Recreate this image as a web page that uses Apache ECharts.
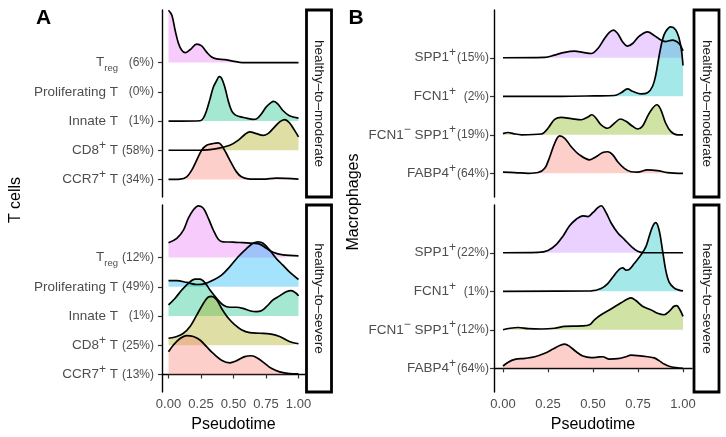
<!DOCTYPE html>
<html><head><meta charset="utf-8">
<script src="https://cdn.jsdelivr.net/npm/echarts@6/dist/echarts.min.js"></script>
<style>html,body{margin:0;padding:0;background:#fff}#c{width:726px;height:437px}</style>
</head><body><div id="c"></div>
<script>
// ---------------- data ----------------
const xTicks = [0, 0.25, 0.5, 0.75, 1];
const tcellNames = ['CCR7+ T', 'CD8+ T', 'Innate T', 'Proliferating T', 'T_reg']; // bottom -> top
const tcellPctModerate = ['(34%)', '(58%)', '(1%)', '(0%)', '(6%)'];
const tcellPctSevere = ['(13%)', '(25%)', '(1%)', '(49%)', '(12%)'];
const macroNames = ['FABP4+', 'FCN1− SPP1+', 'FCN1+', 'SPP1+']; // bottom -> top
const macroPctModerate = ['(64%)', '(19%)', '(2%)', '(15%)'];
const macroPctSevere = ['(64%)', '(12%)', '(1%)', '(22%)'];
const facetNames = ['healthy–to–moderate', 'healthy–to–severe'];

// densities [pseudotime, ridge height in row units]
const tModCCR7 = [[0,0],[0.089,0.01],[0.14,0.09],[0.179,0.32],[0.217,0.66],[0.255,1.0],[0.293,1.17],[0.344,1.23],[0.383,1.25],[0.408,1.17],[0.446,0.88],[0.485,0.55],[0.523,0.26],[0.561,0.09],[0.612,0.02],[0.727,0.01],[0.829,0.045],[1,0.01]];
const tModCD8 = [[0,0],[0.242,0],[0.37,0.057],[0.472,0.17],[0.536,0.34],[0.587,0.54],[0.625,0.63],[0.676,0.57],[0.727,0.51],[0.765,0.57],[0.804,0.74],[0.855,0.97],[0.893,1.05],[0.93,0.94],[0.97,0.68],[1,0.46]];
const tModInnate = [[0,0],[0.1,0],[0.242,0.01],[0.268,0.10],[0.293,0.36],[0.319,0.75],[0.344,1.15],[0.37,1.38],[0.39,1.52],[0.408,1.47],[0.434,1.15],[0.459,0.70],[0.485,0.36],[0.51,0.22],[0.548,0.15],[0.6,0.10],[0.65,0.06],[0.676,0.07],[0.714,0.24],[0.753,0.49],[0.791,0.64],[0.809,0.67],[0.842,0.58],[0.88,0.36],[0.93,0.18],[1,0.10]];
const tModProlif = [];
const tModTreg = [[0,1.79],[0.026,1.62],[0.051,1.105],[0.077,0.65],[0.102,0.42],[0.128,0.34],[0.166,0.44],[0.217,0.63],[0.255,0.57],[0.293,0.36],[0.332,0.19],[0.37,0.125],[0.434,0.10],[0.485,0.057],[0.548,0.01],[0.65,0],[0.8,0],[1,0]];

const tSevCCR7 = [[0,0.78],[0.038,1.01],[0.089,1.23],[0.14,1.33],[0.191,1.30],[0.242,1.18],[0.293,0.95],[0.344,0.72],[0.408,0.49],[0.472,0.40],[0.523,0.47],[0.587,0.61],[0.638,0.64],[0.689,0.55],[0.74,0.38],[0.791,0.21],[0.855,0.09],[0.93,0.03],[1,0.02]];
const tSevCD8 = [[0,0.24],[0.064,0.30],[0.115,0.41],[0.166,0.64],[0.217,1.03],[0.268,1.43],[0.306,1.65],[0.332,1.67],[0.37,1.56],[0.408,1.26],[0.459,0.93],[0.51,0.70],[0.561,0.53],[0.625,0.43],[0.702,0.41],[0.778,0.39],[0.855,0.30],[0.93,0.13],[1,0.05]];
const tSevInnate = [[0,0.38],[0.051,0.61],[0.102,0.89],[0.153,1.12],[0.204,1.26],[0.242,1.26],[0.281,1.14],[0.319,0.89],[0.37,0.61],[0.42,0.38],[0.472,0.30],[0.523,0.30],[0.574,0.26],[0.625,0.18],[0.676,0.15],[0.714,0.18],[0.753,0.32],[0.804,0.55],[0.855,0.69],[0.906,0.83],[0.944,0.87],[0.982,0.78],[1,0.69]];
const tSevProlif = [[0,0.21],[0.064,0.21],[0.14,0.15],[0.217,0.08],[0.281,0.11],[0.344,0.23],[0.408,0.40],[0.472,0.69],[0.536,1.03],[0.6,1.31],[0.65,1.49],[0.689,1.54],[0.727,1.49],[0.778,1.26],[0.829,0.97],[0.88,0.74],[0.93,0.51],[1,0.25]];
const tSevTreg = [[0,0.51],[0.064,0.66],[0.115,0.94],[0.153,1.35],[0.191,1.63],[0.23,1.77],[0.268,1.69],[0.306,1.35],[0.344,0.95],[0.383,0.63],[0.42,0.54],[0.497,0.53],[0.574,0.51],[0.65,0.49],[0.702,0.46],[0.753,0.32],[0.804,0.18],[0.88,0.09],[1,0.06]];

const mModFABP4 = [[0,0.03],[0.066,0.02],[0.14,0],[0.195,0.02],[0.232,0.13],[0.26,0.43],[0.287,0.78],[0.315,0.97],[0.343,0.91],[0.379,0.69],[0.425,0.48],[0.481,0.35],[0.517,0.43],[0.554,0.54],[0.582,0.56],[0.61,0.48],[0.637,0.30],[0.674,0.13],[0.711,0.04],[0.748,0.03],[0.803,0.09],[0.858,0.07],[0.913,0.02],[1,0]];
const mModDN = [[0,0.03],[0.029,0.06],[0.057,0.03],[0.103,0],[0.214,0.02],[0.25,0.17],[0.287,0.40],[0.324,0.45],[0.379,0.42],[0.435,0.39],[0.471,0.46],[0.494,0.52],[0.517,0.43],[0.545,0.26],[0.582,0.17],[0.619,0.30],[0.652,0.41],[0.683,0.35],[0.72,0.22],[0.748,0.15],[0.775,0.22],[0.803,0.48],[0.831,0.69],[0.855,0.78],[0.877,0.65],[0.904,0.30],[0.932,0.09],[0.969,0],[1,0]];
const mModFCN1 = [[0,0],[0.324,0],[0.508,0.01],[0.619,0.02],[0.656,0.09],[0.692,0.19],[0.72,0.13],[0.766,0.06],[0.803,0.09],[0.831,0.26],[0.849,0.56],[0.867,1.04],[0.886,1.47],[0.904,1.68],[0.932,1.80],[0.959,1.73],[0.978,1.51],[0.991,1.21],[1,0.80]];
const mModSPP1 = [[0,0],[0.232,0.01],[0.287,0.07],[0.343,0.14],[0.398,0.17],[0.444,0.14],[0.49,0.11],[0.527,0.24],[0.564,0.50],[0.591,0.66],[0.613,0.72],[0.637,0.63],[0.665,0.41],[0.692,0.30],[0.72,0.37],[0.757,0.56],[0.803,0.67],[0.84,0.58],[0.877,0.46],[0.904,0.42],[0.941,0.46],[0.978,0.37],[1,0.18]];

const mSevFABP4 = [[0,0.06],[0.029,0.16],[0.066,0.23],[0.122,0.26],[0.177,0.30],[0.232,0.39],[0.278,0.50],[0.315,0.59],[0.343,0.63],[0.37,0.57],[0.407,0.43],[0.444,0.32],[0.49,0.28],[0.527,0.29],[0.554,0.30],[0.591,0.24],[0.637,0.25],[0.683,0.30],[0.711,0.34],[0.748,0.33],[0.803,0.30],[0.84,0.27],[0.867,0.20],[0.895,0.11],[0.932,0.04],[1,0]];
const mSevDN = [[0,0],[0.039,0.04],[0.085,0.06],[0.14,0.03],[0.214,0.02],[0.287,0.04],[0.343,0.09],[0.435,0.10],[0.481,0.13],[0.508,0.26],[0.545,0.39],[0.6,0.54],[0.656,0.70],[0.692,0.80],[0.711,0.83],[0.738,0.76],[0.775,0.61],[0.821,0.52],[0.858,0.43],[0.895,0.39],[0.923,0.48],[0.95,0.61],[0.965,0.63],[0.983,0.52],[1,0.35]];
const mSevFCN1 = [[0,0],[0.49,0.01],[0.545,0.07],[0.582,0.20],[0.619,0.42],[0.646,0.57],[0.665,0.61],[0.683,0.55],[0.702,0.57],[0.729,0.72],[0.766,0.94],[0.794,1.16],[0.812,1.42],[0.831,1.68],[0.849,1.78],[0.867,1.59],[0.886,1.07],[0.904,0.55],[0.923,0.24],[0.95,0.09],[0.978,0.03],[1,0.01]];
const mSevSPP1 = [[0,0],[0.195,0.01],[0.25,0.06],[0.297,0.22],[0.333,0.43],[0.37,0.70],[0.407,0.87],[0.444,0.96],[0.471,0.94],[0.499,1.04],[0.527,1.17],[0.545,1.22],[0.573,1.04],[0.6,0.78],[0.637,0.52],[0.674,0.35],[0.711,0.17],[0.748,0.04],[0.785,0],[1,0]];

// ---------------- styling / build ----------------
const FONT = '"Liberation Sans", Arial, Helvetica, sans-serif';
const tColors = ['#F8766D', '#A3A500', '#00BF7D', '#00B0F6', '#E76BF3'];
const mColors = ['#F8766D', '#7CAE00', '#00BFC4', '#C77CFF'];
const LABEL = '#4d4d4d';

const facets = [
  { grid: { left: 162, top: 10, width: 143, height: 187 }, names: tcellNames, pct: tcellPctModerate,
    ridges: [tModCCR7, tModCD8, tModInnate, tModProlif, tModTreg], colors: tColors, ymin: -0.6, ymax: 5.8, bottom: false, pm: 8, nm: 44, pp: 3 },
  { grid: { left: 162, top: 205, width: 143, height: 187 }, names: tcellNames, pct: tcellPctSevere,
    ridges: [tSevCCR7, tSevCD8, tSevInnate, tSevProlif, tSevTreg], colors: tColors, ymin: -0.6, ymax: 5.8, bottom: true, pm: 8, nm: 44, pp: 3 },
  { grid: { left: 494, top: 10, width: 198, height: 187 }, names: macroNames, pct: macroPctModerate,
    ridges: [mModFABP4, mModDN, mModFCN1, mModSPP1], colors: mColors, ymin: -0.615, ymax: 4.24, bottom: false, pm: 5, nm: 38, pp: 7 },
  { grid: { left: 494, top: 205, width: 198, height: 187 }, names: macroNames, pct: macroPctSevere,
    ridges: [mSevFABP4, mSevDN, mSevFCN1, mSevSPP1], colors: mColors, ymin: -0.615, ymax: 4.24, bottom: true, pm: 5, nm: 38, pp: 7 }
];

function richName(n) {
  if (n === 'T_reg') return '{n|T}{sub|reg}';
  return n.split(/([+−])/).filter(s => s !== '').map(s => (s === '+' || s === '−') ? '{sup|' + s + '}' : '{n|' + s + '}').join('');
}
function hexA(h, a) {
  const r = parseInt(h.slice(1, 3), 16), g = parseInt(h.slice(3, 5), 16), b = parseInt(h.slice(5, 7), 16);
  return 'rgba(' + r + ',' + g + ',' + b + ',' + a + ')';
}

const grids = [], xAxes = [], yAxes = [], series = [];
facets.forEach((f, gi) => {
  grids.push(f.grid);
  const idx = f.names.map((_, i) => i);
  xAxes.push({
    type: 'value', gridIndex: gi, min: -0.05, max: 1.05,
    splitLine: { show: false },
    axisLine: { show: f.bottom, lineStyle: { color: '#000', width: 1.4 } },
    axisTick: { show: f.bottom, customValues: xTicks, length: 4, lineStyle: { color: '#333', width: 1.2 } },
    axisLabel: { show: f.bottom, customValues: xTicks, formatter: v => v.toFixed(2), color: LABEL, fontSize: 13, fontFamily: FONT, margin: 6 },
    name: f.bottom ? 'Pseudotime' : '', nameLocation: 'middle', nameGap: 25,
    nameTextStyle: { fontSize: 16, color: '#000', fontFamily: FONT }
  });
  yAxes.push({
    type: 'value', gridIndex: gi, min: f.ymin, max: f.ymax, position: 'left',
    splitLine: { show: false },
    axisLine: { show: true, onZero: false, lineStyle: { color: '#000', width: 1.4 } },
    axisTick: { show: true, customValues: idx, length: 4, lineStyle: { color: '#333', width: 1.2 } },
    axisLabel: { customValues: idx, formatter: v => f.pct[Math.round(v)] || '', color: LABEL, fontSize: 12, fontFamily: FONT, margin: f.pm, padding: [0, 0, f.pp, 0] }
  });
  yAxes.push({
    type: 'value', gridIndex: gi, min: f.ymin, max: f.ymax, position: 'left',
    splitLine: { show: false }, axisLine: { show: false }, axisTick: { show: false },
    axisLabel: {
      customValues: idx, formatter: v => richName(f.names[Math.round(v)] || ''), margin: f.nm,
      rich: {
        n: { fontSize: 13.5, color: LABEL, fontFamily: FONT, lineHeight: 22 },
        sup: { fontSize: 12, color: LABEL, fontFamily: FONT, verticalAlign: 'top', lineHeight: 12 },
        sub: { fontSize: 9.5, color: LABEL, fontFamily: FONT, verticalAlign: 'bottom', lineHeight: 15 }
      }
    }
  });
  // draw top row first so lower ridges overlap upper ones
  for (let i = f.ridges.length - 1; i >= 0; i--) {
    const r = f.ridges[i];
    if (!r.length) continue;
    series.push({
      type: 'line', xAxisIndex: gi, yAxisIndex: gi * 2,
      data: r.map(p => [p[0], i + p[1]]),
      smooth: 0.35, symbol: 'none', silent: true,
      lineStyle: { color: '#000', width: 1.7 },
      areaStyle: { origin: i, color: hexA(f.colors[i], 0.5) }
    });
  }
});

// facet strips and titles
const graphic = [];
[[306.5, 10], [306.5, 205], [694, 10], [694, 205]].forEach((p, k) => {
  graphic.push({ type: 'rect', shape: { x: p[0], y: p[1], width: 25, height: 187 }, style: { fill: '#fff', stroke: '#000', lineWidth: 2.8 }, z: 10 });
  graphic.push({ type: 'text', x: p[0] + 12.5, y: p[1] + 93.5, rotation: -Math.PI / 2, z: 11,
    style: { text: facetNames[k % 2], fill: '#1a1a1a', font: '13.5px ' + FONT, align: 'center', verticalAlign: 'middle' } });
});
graphic.push({ type: 'text', x: 43.5, y: 18, style: { text: 'A', font: 'bold 21px ' + FONT, fill: '#000', align: 'center', verticalAlign: 'middle' } });
graphic.push({ type: 'text', x: 356, y: 18, style: { text: 'B', font: 'bold 21px ' + FONT, fill: '#000', align: 'center', verticalAlign: 'middle' } });
graphic.push({ type: 'text', x: 16, y: 200, rotation: Math.PI / 2, style: { text: 'T cells', font: '16px ' + FONT, fill: '#000', align: 'center', verticalAlign: 'middle' } });
graphic.push({ type: 'text', x: 354, y: 202, rotation: Math.PI / 2, style: { text: 'Macrophages', font: '16px ' + FONT, fill: '#000', align: 'center', verticalAlign: 'middle' } });

const chart = echarts.init(document.getElementById('c'), null, { renderer: 'canvas' });
chart.setOption({
  animation: false, backgroundColor: '#fff',
  grid: grids, xAxis: xAxes, yAxis: yAxes, series: series, graphic: graphic
});
</script></body></html>
